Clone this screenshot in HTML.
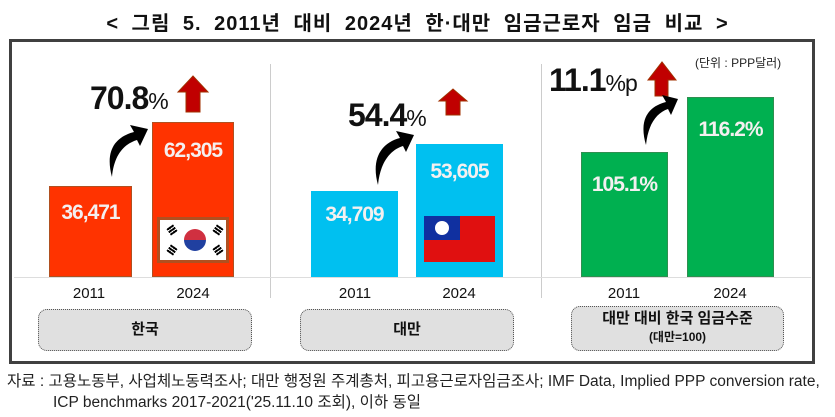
<!DOCTYPE html>
<html><head><meta charset="utf-8"><style>
body{margin:0;width:835px;height:417px;background:#fff;position:relative;overflow:hidden;font-family:"Liberation Sans","Noto Sans CJK KR",sans-serif}
.a{position:absolute}
.bar{position:absolute;box-sizing:border-box}
.v{position:absolute;width:100%;text-align:center;color:#f4f0f0;font-weight:bold;font-size:21px;letter-spacing:-1px}
.yr{position:absolute;font-size:15px;width:60px;text-align:center;color:#111}
.pill{position:absolute;background:#e0e0e0;border:1px dotted #555;border-radius:9px;box-sizing:border-box;text-align:center;font-weight:bold;color:#111}
.big{position:absolute;font-weight:bold;font-size:32px;letter-spacing:-1px;color:#111}
.big small{font-size:23px;font-weight:normal}
</style></head><body>
<div class="a" style="left:0;width:835px;top:7px;text-align:center;font-size:20px;font-weight:bold;color:#111;letter-spacing:1px;word-spacing:6px">&lt; 그림 5. 2011년 대비 2024년 한·대만 임금근로자 임금 비교 &gt;</div>
<div class="a" style="left:9px;top:39px;width:806px;height:325px;border:3px solid #404040;box-sizing:border-box"></div>
<div class="a" style="left:270px;top:64px;width:1px;height:234px;background:#ccc"></div>
<div class="a" style="left:541px;top:64px;width:1px;height:234px;background:#ccc"></div>
<div class="a" style="left:14px;top:277px;width:797px;height:1px;background:#ddd"></div>

<div class="bar" style="left:49px;top:186px;width:83px;height:91px;background:#ff3300;border:1px solid #b05020"><div class="v" style="top:14px">36,471</div></div>
<div class="bar" style="left:152px;top:122px;width:82px;height:155px;background:#ff3300;border:1px solid #b05020"><div class="v" style="top:16px">62,305</div>
<div class="a" style="left:4px;top:94px;width:72px;height:46px;background:#b05020;padding:3px;box-sizing:border-box"><div style="width:100%;height:100%;background:#fff;position:relative">
<div class="a" style="left:24px;top:9px;width:22px;height:22px;border-radius:50%;background:linear-gradient(#d03040 50%,#2040a0 50%)"></div>
<div class="a" style="left:8px;top:6px;width:8px;height:8px;background:repeating-linear-gradient(#000 0 2px,#fff 2px 3px);transform:rotate(-35deg)"></div>
<div class="a" style="left:54px;top:6px;width:8px;height:8px;background:repeating-linear-gradient(#000 0 2px,#fff 2px 3px);transform:rotate(35deg)"></div>
<div class="a" style="left:8px;top:26px;width:8px;height:8px;background:repeating-linear-gradient(#000 0 2px,#fff 2px 3px);transform:rotate(35deg)"></div>
<div class="a" style="left:54px;top:26px;width:8px;height:8px;background:repeating-linear-gradient(#000 0 2px,#fff 2px 3px);transform:rotate(-35deg)"></div>
</div></div></div>

<div class="bar" style="left:311px;top:191px;width:87px;height:86px;background:#00c0f0"><div class="v" style="top:12px">34,709</div></div>
<div class="bar" style="left:416px;top:144px;width:87px;height:133px;background:#00c0f0"><div class="v" style="top:16px">53,605</div>
<div class="a" style="left:8px;top:72px;width:71px;height:46px;background:#e01010"><div class="a" style="left:0;top:0;width:36px;height:24px;background:#1030a0"><div class="a" style="left:11px;top:5px;width:14px;height:14px;border-radius:50%;background:#fff;box-shadow:0 0 0 2px #1030a0"></div></div></div></div>

<div class="bar" style="left:581px;top:152px;width:87px;height:125px;background:#00b050;border:1px solid #2f8f50"><div class="v" style="top:20px">105.1%</div></div>
<div class="bar" style="left:687px;top:97px;width:87px;height:180px;background:#00b050;border:1px solid #2f8f50"><div class="v" style="top:20px">116.2%</div></div>

<div class="yr" style="left:59px;top:285px">2011</div><div class="yr" style="left:163px;top:285px">2024</div>
<div class="yr" style="left:325px;top:285px">2011</div><div class="yr" style="left:429px;top:285px">2024</div>
<div class="yr" style="left:594px;top:285px">2011</div><div class="yr" style="left:700px;top:285px">2024</div>

<div class="pill" style="left:38px;top:309px;width:214px;height:42px;line-height:40px;font-size:15px">한국</div>
<div class="pill" style="left:300px;top:309px;width:214px;height:42px;line-height:40px;font-size:15px">대만</div>
<div class="pill" style="left:571px;top:306px;width:213px;height:45px;font-size:15px;padding-top:3px;line-height:18px">대만 대비 한국 임금수준<br><span style="font-size:12px">(대만=100)</span></div>
<div class="a" style="left:695px;top:54px;font-size:12px;color:#222">(단위 : PPP달러)</div>

<div class="big" style="left:90px;top:80px">70.8<small>%</small></div>
<div class="big" style="left:348px;top:97px">54.4<small>%</small></div>
<div class="big" style="left:549px;top:62px">11.1<small>%p</small></div>

<svg class="a" style="left:0;top:0" width="835" height="417">
<g fill="#c00000" stroke="#a03000" stroke-width="1">
<polygon points="186,112 200,112 200,92 208,92 193,76 178,92 186,92"/>
<polygon points="446,115 460,115 460,101 467,101 453,89 439,101 446,101"/>
<polygon points="655,96 668,96 668,80 676,80 662,62 648,80 655,80"/>
</g>
<g fill="#000">
<path d="M112,177 C104,148 118,136 134,132 L130,125 L148,129 L140,146 L137,140 C124,144 114,155 112,177Z"/>
<path d="M378,185 C370,156 384,142 400,138 L396,131 L414,135 L406,152 L403,146 C390,150 380,163 378,185Z"/>
<path d="M646,145 C638,118 650,106 666,102 L662,95 L678,99 L671,115 L668,109 C656,113 648,125 646,145Z"/>
</g></svg>

<div class="a" style="left:7px;top:369px;font-size:15.5px;color:#222;white-space:nowrap;letter-spacing:0px">자료 : 고용노동부, 사업체노동력조사; 대만 행정원 주계총처, 피고용근로자임금조사; IMF Data, Implied PPP conversion rate,</div>
<div class="a" style="left:53px;top:390px;font-size:15.5px;color:#222;white-space:nowrap;letter-spacing:0px">ICP benchmarks 2017-2021('25.11.10 조회), 이하 동일</div>
</body></html>
